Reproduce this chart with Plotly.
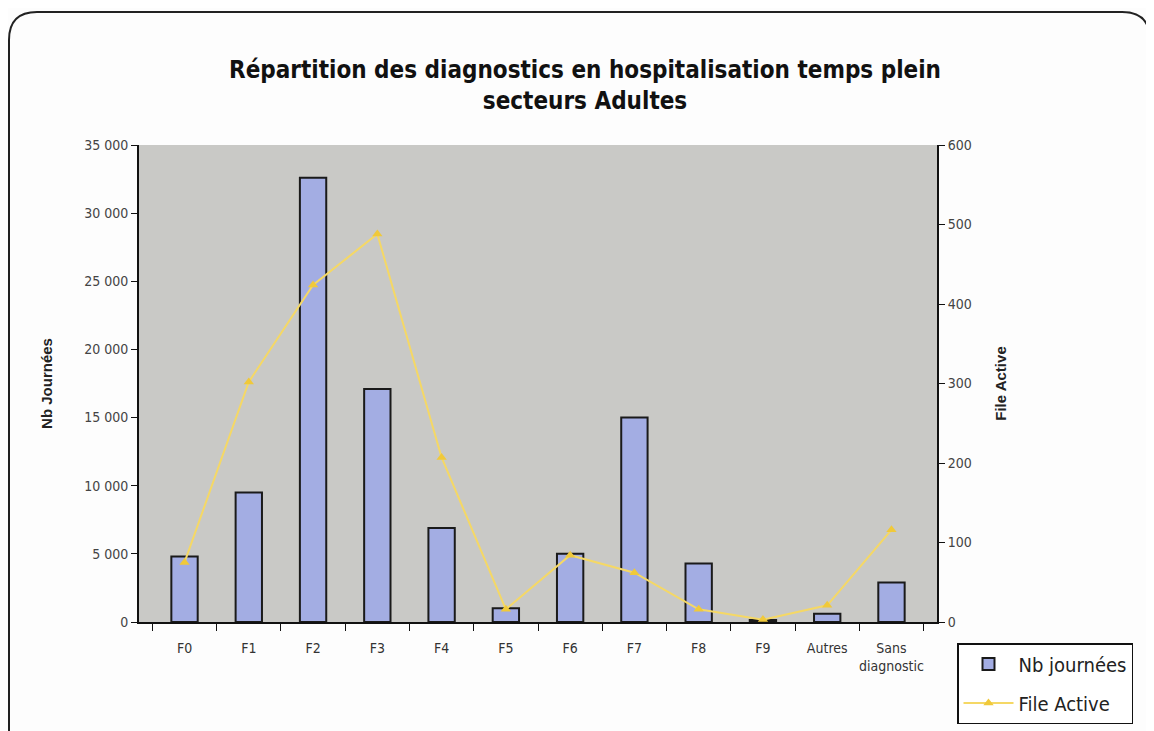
import plotly.graph_objects as go

# catégories de diagnostics
categories = ["F0", "F1", "F2", "F3", "F4", "F5", "F6", "F7", "F8", "F9", "Autres", "Sans<br>diagnostic"]
nb_journees = [4800, 9500, 32600, 17100, 6900, 1000, 5000, 15000, 4300, 150, 600, 2900]
file_active = [75, 302, 424, 488, 207, 16, 84, 62, 16, 3, 21, 116]

left_ticks = [0, 5000, 10000, 15000, 20000, 25000, 30000, 35000]
left_labels = ["0", "5 000", "10 000", "15 000", "20 000", "25 000", "30 000", "35 000"]
right_ticks = [0, 100, 200, 300, 400, 500, 600]

FONT = "DejaVu Sans Condensed, Liberation Sans, Arial"

fig = go.Figure()

fig.add_trace(go.Bar(
    x=categories, y=nb_journees, name="Nb journées", legendgroup="a",
    marker=dict(color="#a3ade3", line=dict(color="#1a1a1a", width=2)),
))

fig.add_trace(go.Scatter(
    x=categories, y=file_active, name="File Active", yaxis="y2", legendgroup="b",
    mode="lines+markers",
    line=dict(color="#f5d865", width=2),
    marker=dict(symbol="triangle-up", size=9, color="#f0c93a"),
))

# cadre arrondi autour du graphique (coordonnées paper, page décalée de 8px)
W, H = 798, 477
def px(x):
    return (x - 139) / W
def py(y):
    return (622 - y) / H
x0, x1, y0, y1, r = 9, 1150, 12, 745, 28
path = (f"M {px(x0 + r)},{py(y0)} L {px(x1 - r)},{py(y0)} "
        f"Q {px(x1)},{py(y0)} {px(x1)},{py(y0 + r)} L {px(x1)},{py(y1)} "
        f"L {px(x0)},{py(y1)} L {px(x0)},{py(y0 + r)} "
        f"Q {px(x0)},{py(y0)} {px(x0 + r)},{py(y0)} Z")

fig.update_layout(
    width=1154, height=731,
    margin=dict(l=131, r=225, t=137, b=117),
    paper_bgcolor="#fdfdfd",
    plot_bgcolor="#c9c9c6",
    font=dict(family=FONT, size=15, color="#333333"),
    title=dict(
        text="<b>Répartition des diagnostics en hospitalisation temps plein<br>secteurs Adultes</b>",
        x=0.5, xanchor="center", y=0.904, yanchor="middle",
        font=dict(family=FONT, size=24, color="#111111"),
    ),
    bargap=0.59,
    xaxis=dict(
        tickson="boundaries", ticks="outside", ticklen=7, tickcolor="#111",
        showline=True, linecolor="#111", linewidth=2, tickangle=0, automargin=False,
        ticklabelstandoff=12,
        tickfont=dict(size=14, color="#333"),
    ),
    yaxis=dict(
        title=dict(text="<b>Nb Journées</b>", font=dict(family="Liberation Sans, Arial", size=15, color="#222"), standoff=28),
        range=[0, 35000], tickvals=left_ticks, ticktext=left_labels, automargin=False,
        ticks="outside", ticklen=6, tickcolor="#111",
        showline=True, linecolor="#111", linewidth=2, showgrid=False, zeroline=False,
        tickfont=dict(size=14, color="#444"),
    ),
    yaxis2=dict(
        title=dict(text="<b>File Active</b>", font=dict(family="Liberation Sans, Arial", size=15, color="#222"), standoff=25),
        overlaying="y", side="right", range=[0, 600], tickvals=right_ticks, automargin=False,
        ticks="outside", ticklen=6, tickcolor="#111",
        showline=True, linecolor="#111", linewidth=2, showgrid=False, zeroline=False,
        tickfont=dict(size=14, color="#444"),
    ),
    legend=dict(
        x=px(957), y=py(643), xanchor="left", yanchor="top",
        bgcolor="#ffffff", bordercolor="#111", borderwidth=1.5,
        font=dict(family=FONT, size=20, color="#222"),
        traceorder="grouped", tracegroupgap=10, itemwidth=50,
    ),
    shapes=[dict(type="path", xref="paper", yref="paper", path=path,
                 line=dict(color="#222", width=2), layer="below")],
)

fig.write_html("out.html")
